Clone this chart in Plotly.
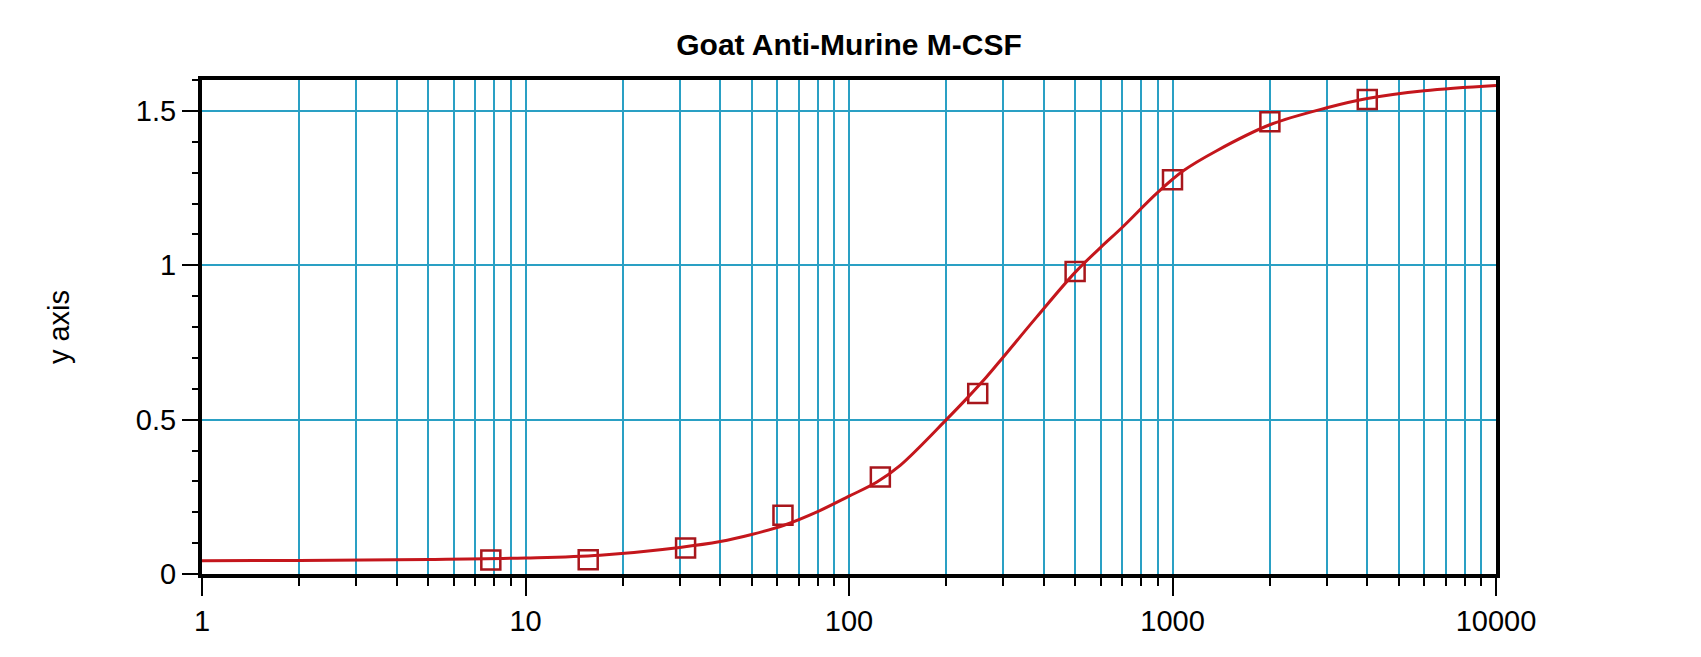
import plotly.graph_objects as go

# standard dilution series (measured points)
conc = [7.8125, 15.625, 31.25, 62.5, 125, 250, 500, 1000, 2000, 4000]
od = [0.045, 0.046, 0.084, 0.19, 0.314, 0.585, 0.98, 1.277, 1.465, 1.537]

# fitted curve
fit_x = [1, 2, 5, 10, 17, 30, 40, 50, 63, 80, 100, 122, 144, 200, 231, 266,
         300, 380, 500, 600, 700, 900, 1080, 1370, 2000, 3000, 4000, 6000, 10000]
fit_y = [0.043, 0.044, 0.047, 0.052, 0.061, 0.086, 0.105, 0.128, 0.158, 0.202,
         0.252, 0.298, 0.352, 0.50, 0.568, 0.638, 0.703, 0.832, 0.977, 1.058,
         1.123, 1.236, 1.306, 1.371, 1.455, 1.51, 1.54, 1.565, 1.582]

x_ticks = [1, 10, 100, 1000, 10000]
y_ticks = [0, 0.5, 1, 1.5]

GRID = "#2aa0c4"
FONT = "Liberation Sans, Arial, sans-serif"

fig = go.Figure()

fig.add_trace(go.Scatter(
    x=conc, y=od, mode="markers",
    marker=dict(symbol="square-open", size=19, color="#a8161c",
                line=dict(width=2.5, color="#a8161c")),
    showlegend=False,
))
fig.add_trace(go.Scatter(
    x=fit_x, y=fit_y, mode="lines", line_shape="spline",
    line=dict(color="#c4161c", width=3),
    showlegend=False,
))

# page body adds an 8px offset, so the figure is trimmed to match
fig.update_layout(
    width=1693, height=649,
    margin=dict(l=194, r=205, t=72, b=83),
    plot_bgcolor="white", paper_bgcolor="white",
    font=dict(family=FONT, size=29, color="black"),
    title=dict(text="<b>Goat Anti-Murine M-CSF</b>", x=0.5, xref="paper",
               y=0.944, yanchor="middle", font=dict(size=30)),
)

fig.update_xaxes(
    type="log", range=[0, 4],
    tickvals=x_ticks, ticktext=[str(v) for v in x_ticks],
    ticks="outside", ticklen=18, tickwidth=2, tickcolor="black",
    showline=True, linewidth=4, linecolor="black", mirror=True,
    showgrid=True, gridcolor=GRID, gridwidth=2,
    minor=dict(dtick="D1", ticks="outside", ticklen=8, tickwidth=2,
               tickcolor="black", showgrid=True, gridcolor=GRID, gridwidth=1.8),
    zeroline=False,
)
fig.update_yaxes(
    range=[0, 1.6],
    tickvals=y_ticks, ticktext=["0", "0.5", "1", "1.5"],
    ticks="outside", ticklen=16, tickwidth=2, tickcolor="black",
    showline=True, linewidth=4, linecolor="black", mirror=True,
    showgrid=True, gridcolor=GRID, gridwidth=1.5,
    minor=dict(dtick=0.1, ticks="outside", ticklen=6, tickwidth=2,
               tickcolor="black", showgrid=False),
    zeroline=False,
    title=dict(text="y axis", standoff=59, font=dict(size=29)),
)

fig.write_html("out.html")
